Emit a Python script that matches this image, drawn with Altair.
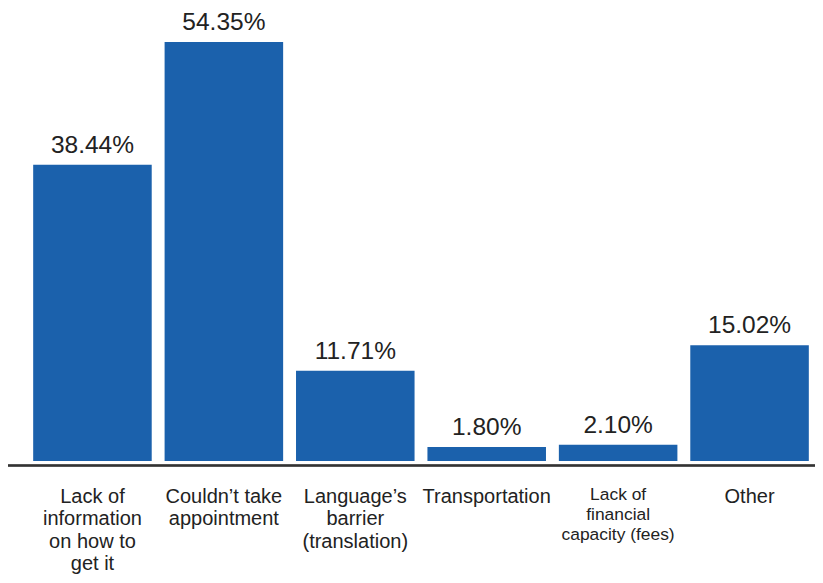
import altair as alt
import pandas as pd

categories = ["Lack of|information|on how to|get it", "Couldn’t take|appointment",
              "Language’s|barrier|(translation)", "Transportation",
              "Lack of|financial|capacity (fees)", "Other"]
values = [38.44, 54.35, 11.71, 1.80, 2.10, 15.02]
labels = ["38.44%", "54.35%", "11.71%", "1.80%", "2.10%", "15.02%"]
small = [False, False, False, False, True, False]

df = pd.DataFrame({"cat": categories, "value": values, "label": labels, "small": small})

W, H = 788, 429
FONT = "Liberation Sans"

xenc = alt.X("cat:N", sort=categories, axis=None,
             scale=alt.Scale(paddingInner=0.098, paddingOuter=0.047, round=False))
yenc = alt.Y("value:Q", axis=None, scale=alt.Scale(domain=[0, 55.65]))

base = alt.Chart(df)

bars = base.mark_bar(color="#1b61ac").encode(x=xenc, y=yenc)

vals = base.mark_text(fontSize=24.5, font=FONT, color="#222222", dy=-12,
                      baseline="alphabetic").encode(x=xenc, y=yenc, text="label:N")

cat_big = base.transform_filter("!datum.small").mark_text(
    fontSize=20, font=FONT, color="#222222", baseline="alphabetic",
    lineBreak="|", lineHeight=22.3).encode(x=xenc, y=alt.value(471), text="cat:N")

cat_small = base.transform_filter("datum.small").mark_text(
    fontSize=17.4, font=FONT, color="#222222", baseline="alphabetic",
    lineBreak="|", lineHeight=20).encode(x=xenc, y=alt.value(468), text="cat:N")

rule = base.mark_rule(color="#333333", strokeWidth=1.5).encode(
    x=alt.value(-21), x2=alt.value(788), y=alt.value(433.5))

chart = alt.layer(bars, vals, cat_big, cat_small, rule).properties(
    width=W, height=H,
    autosize=alt.AutoSizeParams(type="none"),
    padding={"left": 19, "top": 24, "right": 0, "bottom": 114},
).configure_view(stroke=None)

chart.save("out.html", embed_options={"renderer": "svg", "actions": False})
